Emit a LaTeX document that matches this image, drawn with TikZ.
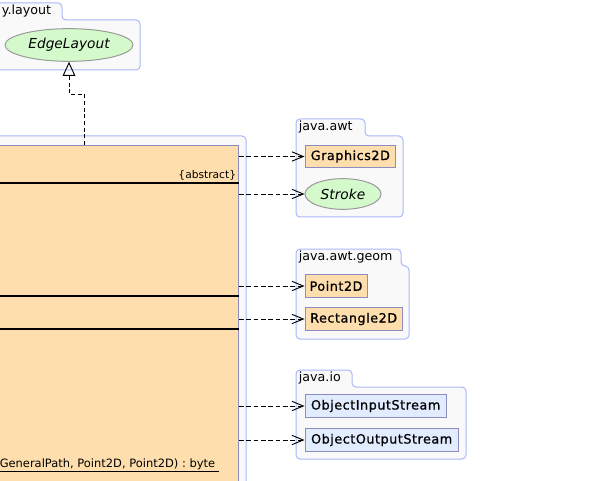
\documentclass[tikz,border=0pt]{standalone}
\usepackage{fontspec}
\setmainfont{DejaVu Sans}[ItalicFont={DejaVu Sans Oblique},BoldFont={DejaVu Sans Bold}]
\newfontfamily\clsfont{DejaVu Sans}[FakeBold=0.8, LetterSpace=4]
\usepackage{xcolor}
\usepackage{tikz}
\usetikzlibrary{arrows.meta, shapes.geometric}

\definecolor{pkgborder}{HTML}{AAB8FA}
\definecolor{pkgfill}{HTML}{F9F9F9}
\definecolor{clsfill}{HTML}{FFDEAD}
\definecolor{clsborder}{HTML}{8C8CC0}
\definecolor{ifacefill}{HTML}{D4FACC}
\definecolor{ifaceborder}{HTML}{9A9A9A}
\definecolor{extfill}{HTML}{E2ECFF}

\begin{document}
\begin{tikzpicture}[
        x=0.75pt,
        y=-0.75pt,
        pkg/.style={
            draw=pkgborder,
            fill=pkgfill,
            line width=0.75pt,
            rounded corners=3pt
        },
        pkglabel/.style={
            anchor=south west,
            inner sep=2pt,
            font=\fontsize{9.5}{11}\selectfont
        },
        cls/.style={
            rectangle,
            draw=clsborder,
            fill=clsfill,
            line width=0.75pt,
            minimum height=17pt,
            inner sep=1pt,
            font=\fontsize{9.6}{11}\clsfont
        },
        extcls/.style={
            cls,
            fill=extfill
        },
        iface/.style={
            ellipse,
            draw=ifaceborder,
            fill=ifacefill,
            line width=0.75pt,
            inner sep=0pt,
            font=\fontsize{10.3}{12}\selectfont\itshape
        },
        dep/.style={
            line width=0.7pt,
            dash pattern=on 3.5pt off 2pt,
            -{Straight Barb[length=8.5pt, width=7pt]}
        },
        realize/.style={
            line width=0.7pt,
            dash pattern=on 3pt off 2pt,
            -{Triangle[open, length=10.5pt, width=9.5pt]}
        },
        small/.style={
            font=\fontsize{8}{9}\selectfont
        }
    ]

    \useasboundingbox (0,0) rectangle (589,481);
    \clip (0,0) rectangle (589,481);

    % Packages
    \draw[pkg] (-5,70) -- (-5,3) -- (62,3) -- (62,20) -- (140,20) -- (140,70) -- cycle;
    \node[pkglabel] (ylayout) at (-1,20) {y.layout};

    \draw[pkg] (-10,136) rectangle (246,520);

    \draw[pkg] (296,217) -- (296,119) -- (365,119) -- (365,136) -- (403,136) -- (403,217) -- cycle;
    \node[pkglabel] (awt) at (296,136) {java.awt};

    \draw[pkg] (296,339) -- (296,249) -- (401,249) -- (401,266) -- (409,266) -- (409,339) -- cycle;
    \node[pkglabel] (geom) at (296,266) {java.awt.geom};

    \draw[pkg] (296,459) -- (296,370) -- (352,370) -- (352,387) -- (466,387) -- (466,459) -- cycle;
    \node[pkglabel] (io) at (296,387) {java.io};

    % Class
    \node[cls, anchor=north west, minimum width=186pt, minimum height=280pt] (cls) at (-10,145) {};
    \draw[line width=0.9pt] (cls.west |- 0,183) -- (cls.east |- 0,183);
    \draw[line width=0.9pt] (cls.west |- 0,296) -- (cls.east |- 0,296);
    \draw[line width=0.9pt] (cls.west |- 0,329) -- (cls.east |- 0,329);
    \node[small, anchor=south east, inner sep=2pt] (abstract) at (cls.east |- 0,183) {\{abstract\}};
    \node[small, font=\fontsize{8.6}{10}\selectfont, anchor=base west, inner sep=0pt] (sig) at (-0.5,467) {\underline{GeneralPath, Point2D, Point2D) : byte\ }};

    % Nodes
    \node[iface, minimum width=96pt, minimum height=24.5pt] (edge) at (69,45) {EdgeLayout};

    \node[cls, anchor=west, minimum width=68pt] (gfx) at (304.5,156.5) {Graphics2D};
    \node[iface, anchor=west, minimum width=57pt, minimum height=23pt] (stroke) at (304.5,194) {Stroke};

    \node[cls, anchor=west, minimum width=46.5pt] (point) at (304.5,286) {Point2D};
    \node[cls, anchor=west, minimum width=73pt] (rect) at (304.5,319) {Rectangle2D};

    \node[extcls, anchor=west, minimum width=106pt] (ois) at (304.5,406) {ObjectInputStream};
    \node[extcls, anchor=west, minimum width=115pt] (oos) at (304.5,440) {ObjectOutputStream};

    % Arrows
    \coordinate (bend) at (84,94);
    \draw[realize] (cls.north -| bend) -- (bend) -| (edge.south);

    \draw[dep] (cls.east |- gfx) -- (gfx);
    \draw[dep] (cls.east |- stroke) -- (stroke);
    \draw[dep] (cls.east |- point) -- (point);
    \draw[dep] (cls.east |- rect) -- (rect);
    \draw[dep] (cls.east |- ois) -- (ois);
    \draw[dep] (cls.east |- oos) -- (oos);

\end{tikzpicture}
\end{document}
